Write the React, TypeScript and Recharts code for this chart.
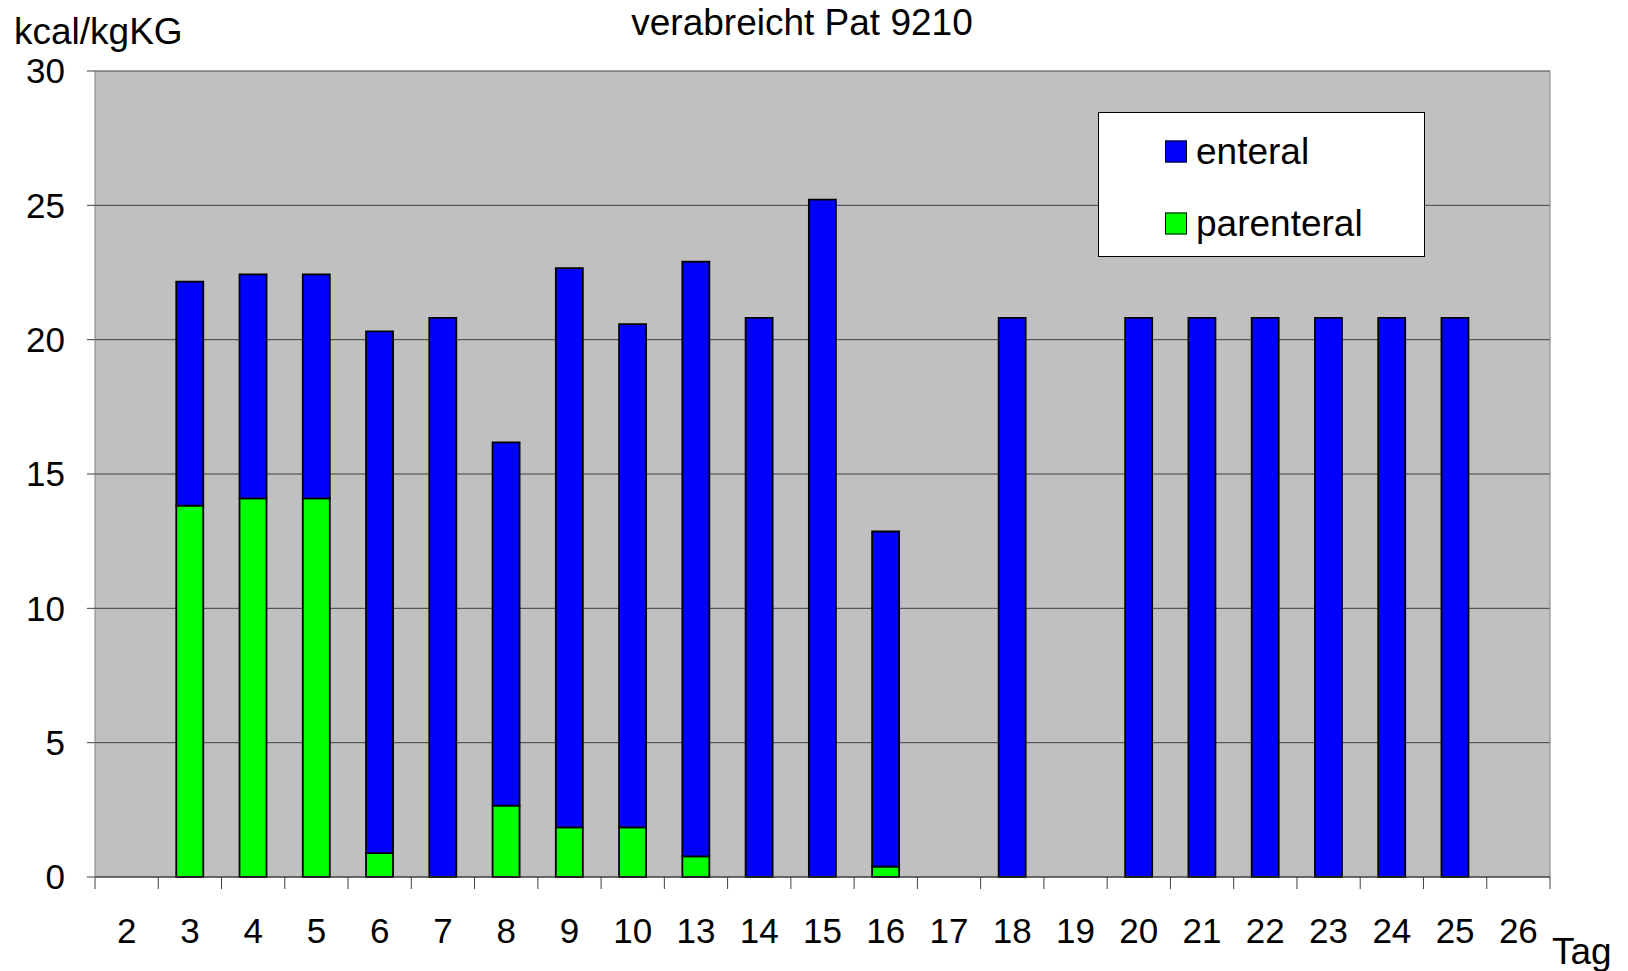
import { Bar, BarChart, CartesianGrid, XAxis, YAxis } from 'recharts';

const days = ['2', '3', '4', '5', '6', '7', '8', '9', '10', '13', '14', '15', '16', '17', '18', '19', '20', '21', '22', '23', '24', '25', '26'];
const enteral = [null, 8.34, 8.34, 8.34, 19.42, 20.81, 13.52, 20.81, 18.73, 22.13, 20.81, 25.21, 12.47, null, 20.81, null, 20.81, 20.81, 20.81, 20.81, 20.81, 20.81, null];
const parenteral = [null, 13.82, 14.09, 14.09, 0.89, null, 2.66, 1.85, 1.85, 0.77, null, null, 0.39, null, null, null, null, null, null, null, null, null, null];
const yTicks = [0, 5, 10, 15, 20, 25, 30];

const series = [
    { key: 'enteral', label: 'enteral', color: '#0000ff' },
    { key: 'parenteral', label: 'parenteral', color: '#00ff00' },
];

const data = days.map((day, i) => ({ day, enteral: enteral[i], parenteral: parenteral[i] }));

const W = 1628;
const H = 971;
const FONT = '"Liberation Sans", Arial, sans-serif';

function DayTick(props: any) {
    const { x, y, payload, index, visibleTicksCount } = props;
    const half = payload?.offset ?? (1550 - 95) / days.length / 2;
    const isLast = index === (visibleTicksCount ?? days.length) - 1;
    return (
        <g>
            <line x1={x - half} y1={y} x2={x - half} y2={y + 12} stroke="#404040" />
            {isLast && <line x1={x + half} y1={y} x2={x + half} y2={y + 12} stroke="#404040" />}
            <text x={x} y={y + 53} textAnchor="middle" dominantBaseline="central" fontSize={35} fill="#000">
                {payload.value}
            </text>
        </g>
    );
}

export default function App() {
    return (
        <div style={{ position: 'absolute', left: 0, top: 0, width: W, height: H, background: '#fff', fontFamily: FONT }}>
            <BarChart width={W} height={H} data={data} margin={{ top: 71, right: 78, bottom: 14, left: 0 }}>
                <CartesianGrid fill="#c0c0c0" fillOpacity={1} stroke="#404040" vertical={false} />
                <CartesianGrid
                    horizontal={false}
                    stroke="#808080"
                    verticalCoordinatesGenerator={({ offset }: any) => [offset.left + offset.width]}
                />
                <XAxis
                    dataKey="day"
                    interval={0}
                    height={80}
                    tickSize={0}
                    tickMargin={0}
                    axisLine={{ stroke: '#404040' }}
                    tick={<DayTick />}
                />
                <YAxis
                    width={95}
                    domain={[0, 30]}
                    ticks={yTicks}
                    interval={0}
                    tickSize={8}
                    tickMargin={22}
                    axisLine={{ stroke: '#808080' }}
                    tickLine={{ stroke: '#404040' }}
                    tick={{ fill: '#000', fontSize: 35, fontFamily: FONT }}
                />
                <Bar dataKey="parenteral" stackId="a" fill="#00ff00" stroke="#000" strokeWidth={1.8} barSize={27} isAnimationActive={false} />
                <Bar dataKey="enteral" stackId="a" fill="#0000ff" stroke="#000" strokeWidth={1.8} barSize={27} isAnimationActive={false} />
            </BarChart>

            <div style={{ position: 'absolute', left: 802, top: 22, transform: 'translate(-50%, -50%)', fontSize: 37, lineHeight: 1, whiteSpace: 'nowrap' }}>
                verabreicht Pat 9210
            </div>
            <div style={{ position: 'absolute', left: 14, top: 32, transform: 'translateY(-50%)', fontSize: 37, lineHeight: 0.9, whiteSpace: 'nowrap' }}>
                kcal/kgKG
            </div>
            <div style={{ position: 'absolute', left: 1552, top: 951, transform: 'translateY(-50%)', fontSize: 37, lineHeight: 1, whiteSpace: 'nowrap' }}>
                Tag
            </div>

            <div
                style={{
                    position: 'absolute',
                    left: 1098,
                    top: 112,
                    width: 327,
                    height: 145,
                    boxSizing: 'border-box',
                    background: '#fff',
                    border: '1px solid #000',
                }}
            >
                {series.map((s, i) => (
                    <div
                        key={s.key}
                        style={{ position: 'absolute', left: 66, top: 38 + i * 72, transform: 'translateY(-50%)', display: 'flex', alignItems: 'center' }}
                    >
                        <span style={{ width: 22, height: 22, boxSizing: 'border-box', background: s.color, border: '1.5px solid #000', marginRight: 9 }} />
                        <span style={{ fontSize: 37, lineHeight: 1 }}>{s.label}</span>
                    </div>
                ))}
            </div>
        </div>
    );
}
